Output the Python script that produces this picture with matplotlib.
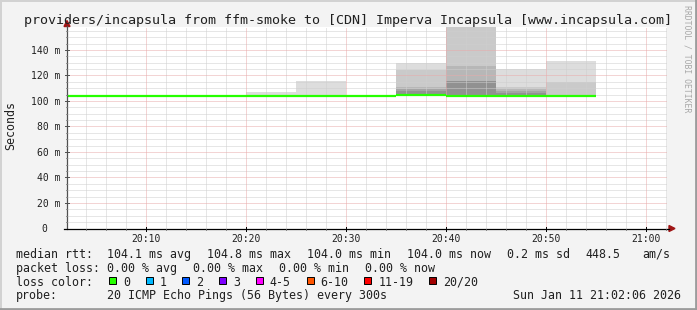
import matplotlib
matplotlib.use("Agg")
import matplotlib.pyplot as plt
import matplotlib.transforms as mtransforms
from matplotlib.patches import Rectangle, Polygon
from matplotlib.lines import Line2D

# ---------------- data ----------------
title = "providers/incapsula from ffm-smoke to [CDN] Imperva Incapsula [www.incapsula.com]"
y_axis_label = "Seconds"

# 5-minute intervals, start time in minutes after 20:00
interval_start = [0, 5, 10, 15, 20, 25, 30, 35, 40, 45, 50]
interval_len = 5
median_ms = [104.0, 104.0, 104.0, 104.0, 104.0, 104.1, 104.0, 104.8, 104.0, 104.0, 104.0]

# 20 sorted ping times (ms) per interval
pings_ms = [
    [104.0, 104.0, 104.0, 104.0, 104.0, 104.0, 104.0, 104.0, 104.0, 104.0,
     104.0, 104.0, 104.0, 104.0, 104.0, 104.0, 104.0, 104.0, 104.0, 104.0],
    [104.0, 104.0, 104.0, 104.0, 104.0, 104.0, 104.0, 104.0, 104.0, 104.0,
     104.0, 104.0, 104.0, 104.0, 104.0, 104.0, 104.0, 104.0, 104.0, 104.0],
    [104.0, 104.0, 104.0, 104.0, 104.0, 104.0, 104.0, 104.0, 104.0, 104.0,
     104.0, 104.0, 104.0, 104.0, 104.0, 104.0, 104.0, 104.0, 104.0, 104.0],
    [104.0, 104.0, 104.0, 104.0, 104.0, 104.0, 104.0, 104.0, 104.0, 104.0,
     104.0, 104.0, 104.0, 104.0, 104.0, 104.0, 104.0, 104.0, 104.0, 104.0],
    [103.9, 104.0, 104.0, 104.0, 104.0, 104.0, 104.0, 104.0, 104.0, 104.0,
     104.0, 104.0, 104.0, 104.0, 104.0, 104.0, 104.0, 104.0, 104.0, 107.4],
    [103.9, 104.0, 104.0, 104.0, 104.0, 104.0, 104.0, 104.0, 104.0, 104.1,
     104.1, 104.1, 104.1, 104.1, 104.1, 104.1, 104.1, 104.1, 104.2, 115.3],
    [104.0, 104.0, 104.0, 104.0, 104.0, 104.0, 104.0, 104.0, 104.0, 104.0,
     104.0, 104.0, 104.0, 104.0, 104.0, 104.0, 104.0, 104.0, 104.0, 104.0],
    [104.6, 104.7, 104.7, 104.7, 104.8, 104.8, 104.8, 104.8, 104.8, 104.8,
     104.8, 104.9, 104.9, 105.0, 105.0, 107.6, 109.2, 110.8, 124.0, 129.5],
    [103.9, 104.0, 104.0, 104.0, 104.0, 104.0, 104.0, 104.0, 104.0, 104.0,
     104.0, 104.0, 104.0, 104.0, 104.0, 116.0, 116.0, 127.8, 170.0, 175.0],
    [104.0, 104.0, 104.0, 104.0, 104.0, 104.0, 104.0, 104.0, 104.0, 104.0,
     104.0, 104.0, 104.0, 104.0, 104.0, 106.0, 107.6, 109.2, 110.8, 124.7],
    [104.0, 104.0, 104.0, 104.0, 104.0, 104.0, 104.0, 104.0, 104.0, 104.0,
     104.0, 104.0, 104.0, 104.0, 104.0, 104.0, 104.0, 104.0, 115.0, 131.3],
]

x_range = [2.1, 62.1]                 # 20:02:06 .. 21:02:06
x_ticks = [10, 20, 30, 40, 50, 60]
x_tick_labels = ["20:10", "20:20", "20:30", "20:40", "20:50", "21:00"]
y_max = 158
y_ticks = [0, 20, 40, 60, 80, 100, 120, 140]
y_tick_labels = ["0", "20 m", "40 m", "60 m", "80 m", "100 m", "120 m", "140 m"]

rtt_stats = [104.1, 104.8, 104.0, 104.0]
rtt_stat_names = ["avg", "max", "min", "now"]
rtt_sd = 0.2
rtt_am = 448.5
loss_stats = [0.00, 0.00, 0.00, 0.00]
loss_stat_names = ["avg", "max", "min", "now"]
loss_labels = ["0", "1", "2", "3", "4-5", "6-10", "11-19", "20/20"]
loss_colors = ["#26ff00", "#00b8ff", "#0059ff", "#7e00ff", "#ff00ff", "#ff5500", "#ff0000", "#a10000"]
probe_text = "20 ICMP Echo Pings (56 Bytes) every 300s"
timestamp = "Sun Jan 11 21:02:06 2026"
watermark = "RRDTOOL / TOBI OETIKER"

# ---------------- style ----------------
W, H = 697, 310
BG = "#f3f3f3"
MONO = "DejaVu Sans Mono"
smoke_shades = ["#dddddd", "#cacaca", "#b7b7b7", "#a4a4a4", "#919191",
                "#7e7e7e", "#6b6b6b", "#585858", "#454545", "#323232"]
MINOR = "#cfcfcf"
MAJOR = "#e9aaaa"
ARROW = "#a01515"

plt.rcParams["font.family"] = [MONO, "DejaVu Sans"]

fig = plt.figure(figsize=(W / 100, H / 100), dpi=100, facecolor=BG)

def fx(x):
    return x / W

def fy(y):
    return 1 - y / H

PL, PR, PT, PB = 67, 667, 27, 228.5
ax = fig.add_axes([fx(PL), fy(PB), fx(PR) - fx(PL), fy(PT) - fy(PB)])
ax.set_facecolor("white")
ax.set_xlim(*x_range)
ax.set_ylim(0, y_max)
for s in ax.spines.values():
    s.set_visible(False)
ax.set_xticks([])
ax.set_yticks([])

# smoke
for start, p in zip(interval_start, pings_ms):
    n = len(p)
    for j in range(n // 2):
        lo, hi = p[j], p[n - 1 - j]
        if hi > lo:
            ax.bar(start, hi - lo, width=interval_len, bottom=lo, align="edge",
                   color=smoke_shades[j], linewidth=0, zorder=1, antialiased=False)

# grid
dash = (0, (1, 1))
for m in range(4, 63, 2):
    if m % 10 != 0:
        ax.axvline(m, color=MINOR, lw=0.72, ls=dash, zorder=2)
for v in range(5, y_max, 5):
    if v % 20 != 0:
        ax.axhline(v, color=MINOR, lw=0.72, ls=dash, zorder=2)
for m in x_ticks:
    ax.axvline(m, color=MAJOR, lw=0.72, ls=dash, zorder=2.1)
for v in y_ticks[1:]:
    ax.axhline(v, color=MAJOR, lw=0.72, ls=dash, zorder=2.1)

# median line (loss colour 0)
ax.hlines(median_ms, interval_start, [s + interval_len for s in interval_start],
          color=loss_colors[0], lw=1.6, zorder=3)

# axes lines + arrows (pixel-based layout)
fig.add_artist(Line2D([fx(PL), fx(PL)], [fy(PB), fy(26)], color="#505050", lw=0.9))
fig.add_artist(Line2D([fx(PL - 3), fx(669)], [fy(PB), fy(PB)], color="black", lw=0.9))
fig.add_artist(Polygon([[fx(64), fy(26.5)], [fx(70), fy(26.5)], [fx(67), fy(20.5)]],
                       closed=True, color=ARROW, transform=fig.transFigure))
fig.add_artist(Polygon([[fx(669), fy(225.5)], [fx(669), fy(231.5)], [fx(675), fy(228.5)]],
                       closed=True, color=ARROW, transform=fig.transFigure))

# tick marks
bx = mtransforms.blended_transform_factory(ax.transData, fig.transFigure)
by = mtransforms.blended_transform_factory(fig.transFigure, ax.transData)
for m in range(4, 63, 2):
    if m % 10 == 0:
        fig.add_artist(Line2D([m, m], [fy(PB - 2), fy(PB + 2.5)], color="black", lw=0.7, transform=bx))
    else:
        fig.add_artist(Line2D([m, m], [fy(PB), fy(PB + 1.5)], color="#707070", lw=0.6, transform=bx))
for v in range(5, y_max, 5):
    if v % 20 == 0:
        fig.add_artist(Line2D([fx(PL - 2.5), fx(PL + 2)], [v, v], color="#505050", lw=0.7, transform=by))
    else:
        fig.add_artist(Line2D([fx(PL - 1.5), fx(PL)], [v, v], color="#808080", lw=0.6, transform=by))

# tick labels
for m, lab in zip(x_ticks, x_tick_labels):
    fig.text(m, fy(242), lab, transform=bx, ha="center", va="baseline",
             fontsize=7, family=MONO, color="#202020")
for v, lab in zip(y_ticks, y_tick_labels):
    xr = 60 if lab.endswith("m") else 47
    fig.text(fx(xr), v, lab, transform=by, ha="right", va="center_baseline",
             fontsize=7, family=MONO, color="#202020")

# title / axis label / watermark
fig.text(fx(24), fy(24), title, ha="left", va="baseline", fontsize=9.6, family=MONO, color="#202020")
fig.text(fx(11), fy(125.5), y_axis_label, rotation=90, ha="center", va="center",
         fontsize=8.4, family=MONO, color="#202020")
fig.text(fx(687.5), fy(59), watermark, rotation=270, ha="center", va="center",
         fontsize=5.9, family=MONO, color="#a8a8a8")

# legend
LF = 8.4
CW = 7.02
def lt(x, y, s, ha="left"):
    fig.text(fx(x), fy(y), s, ha=ha, va="baseline", fontsize=LF, family=MONO, color="#202020")

r1, r2, r3, r4 = 257.6, 271.6, 285.5, 299.4
lt(16, r1, "median rtt:")
for k, (v, nm) in enumerate(zip(rtt_stats, rtt_stat_names)):
    lt(107 + 100.1 * k, r1, f"{v:.1f} ms {nm}")
lt(507.3, r1, f"{rtt_sd:.1f} ms sd")
lt(585.7, r1, f"{rtt_am:.1f}")
lt(642.3, r1, "am/s")

lt(16, r2, "packet loss:")
for k, (v, nm) in enumerate(zip(loss_stats, loss_stat_names)):
    lt(107 + 86.1 * k, r2, f"{v:.2f} % {nm}")

lt(16, r3, "loss color:")
cx = 109
for lab, col in zip(loss_labels, loss_colors):
    fig.add_artist(Rectangle((fx(cx), fy(284.3)), fx(7), 7 / H, facecolor=col,
                             edgecolor="black", lw=0.7, transform=fig.transFigure))
    lt(cx + 14, r3, lab)
    cx += 14 + len(lab) * CW + 15.7

lt(16, r4, "probe:")
lt(107, r4, probe_text)
lt(681, r4, timestamp, ha="right")

# frame
fig.add_artist(Line2D([0, 1], [fy(0.8), fy(0.8)], color="#d2d2d2", lw=1.4))
fig.add_artist(Line2D([fx(0.8), fx(0.8)], [0, 1], color="#d2d2d2", lw=1.4))
fig.add_artist(Line2D([0, 1], [fy(308.7), fy(308.7)], color="#9c9c9c", lw=2.0))
fig.add_artist(Line2D([fx(695.7), fx(695.7)], [0, 1], color="#9c9c9c", lw=2.0))

fig.savefig("out.png", dpi=100, facecolor=BG)
